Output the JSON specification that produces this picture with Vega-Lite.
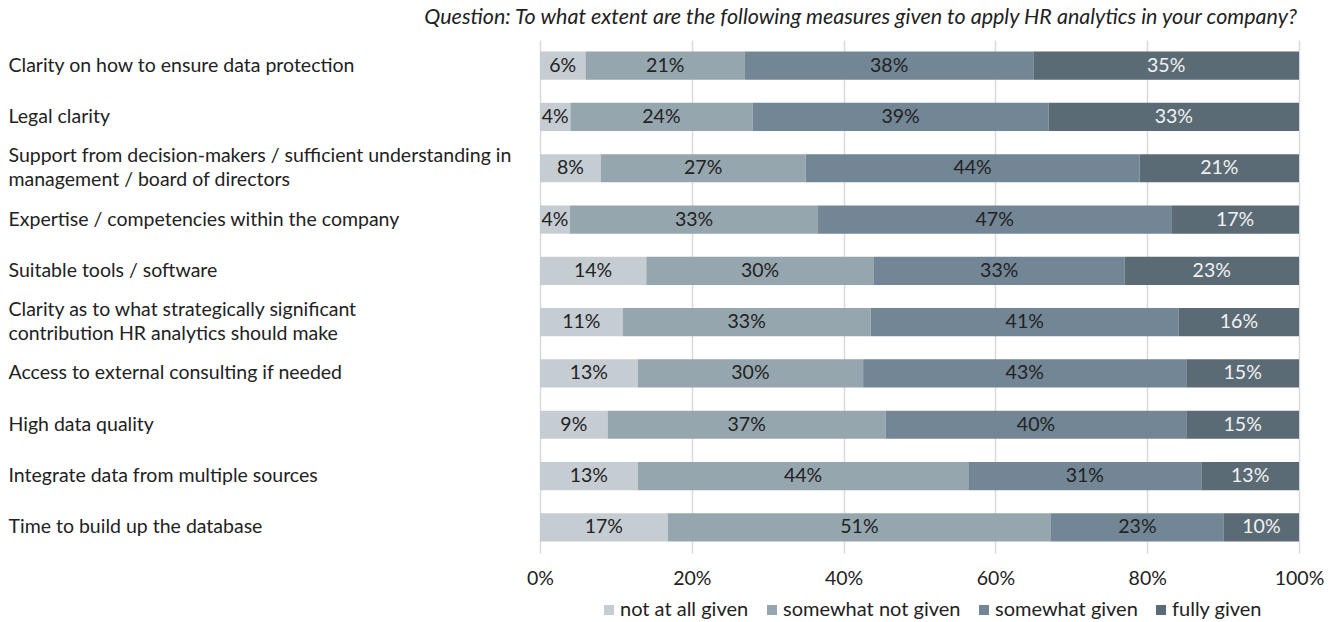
{
  "$schema": "https://vega.github.io/schema/vega-lite/v6.json",
  "autosize": "none",
  "width": 759,
  "height": 513,
  "padding": {"left": 540, "top": 40, "right": 39, "bottom": 69},
  "background": "white",
  "config": {
    "font": "Lato",
    "view": {"stroke": null}
  },
  "title": {
    "text": "Question: To what extent are the following measures given to apply HR analytics in your company?",
    "anchor": "end",
    "frame": "group",
    "fontStyle": "italic",
    "fontWeight": "normal",
    "fontSize": 21.5,
    "color": "#222222",
    "offset": 12,
    "dx": -2
  },
  "data": {
    "values": [
      {"item": "Clarity on how to ensure data protection", "cat": "not at all given", "o": 1, "v": 6},
      {"item": "Clarity on how to ensure data protection", "cat": "somewhat not given", "o": 2, "v": 21},
      {"item": "Clarity on how to ensure data protection", "cat": "somewhat given", "o": 3, "v": 38},
      {"item": "Clarity on how to ensure data protection", "cat": "fully given", "o": 4, "v": 35},
      {"item": "Legal clarity", "cat": "not at all given", "o": 1, "v": 4},
      {"item": "Legal clarity", "cat": "somewhat not given", "o": 2, "v": 24},
      {"item": "Legal clarity", "cat": "somewhat given", "o": 3, "v": 39},
      {"item": "Legal clarity", "cat": "fully given", "o": 4, "v": 33},
      {"item": "Support from decision-makers / sufficient understanding in|management / board of directors", "cat": "not at all given", "o": 1, "v": 8},
      {"item": "Support from decision-makers / sufficient understanding in|management / board of directors", "cat": "somewhat not given", "o": 2, "v": 27},
      {"item": "Support from decision-makers / sufficient understanding in|management / board of directors", "cat": "somewhat given", "o": 3, "v": 44},
      {"item": "Support from decision-makers / sufficient understanding in|management / board of directors", "cat": "fully given", "o": 4, "v": 21},
      {"item": "Expertise / competencies within the company", "cat": "not at all given", "o": 1, "v": 4},
      {"item": "Expertise / competencies within the company", "cat": "somewhat not given", "o": 2, "v": 33},
      {"item": "Expertise / competencies within the company", "cat": "somewhat given", "o": 3, "v": 47},
      {"item": "Expertise / competencies within the company", "cat": "fully given", "o": 4, "v": 17},
      {"item": "Suitable tools / software", "cat": "not at all given", "o": 1, "v": 14},
      {"item": "Suitable tools / software", "cat": "somewhat not given", "o": 2, "v": 30},
      {"item": "Suitable tools / software", "cat": "somewhat given", "o": 3, "v": 33},
      {"item": "Suitable tools / software", "cat": "fully given", "o": 4, "v": 23},
      {"item": "Clarity as to what strategically significant|contribution HR analytics should make", "cat": "not at all given", "o": 1, "v": 11},
      {"item": "Clarity as to what strategically significant|contribution HR analytics should make", "cat": "somewhat not given", "o": 2, "v": 33},
      {"item": "Clarity as to what strategically significant|contribution HR analytics should make", "cat": "somewhat given", "o": 3, "v": 41},
      {"item": "Clarity as to what strategically significant|contribution HR analytics should make", "cat": "fully given", "o": 4, "v": 16},
      {"item": "Access to external consulting if needed", "cat": "not at all given", "o": 1, "v": 13},
      {"item": "Access to external consulting if needed", "cat": "somewhat not given", "o": 2, "v": 30},
      {"item": "Access to external consulting if needed", "cat": "somewhat given", "o": 3, "v": 43},
      {"item": "Access to external consulting if needed", "cat": "fully given", "o": 4, "v": 15},
      {"item": "High data quality", "cat": "not at all given", "o": 1, "v": 9},
      {"item": "High data quality", "cat": "somewhat not given", "o": 2, "v": 37},
      {"item": "High data quality", "cat": "somewhat given", "o": 3, "v": 40},
      {"item": "High data quality", "cat": "fully given", "o": 4, "v": 15},
      {"item": "Integrate data from multiple sources", "cat": "not at all given", "o": 1, "v": 13},
      {"item": "Integrate data from multiple sources", "cat": "somewhat not given", "o": 2, "v": 44},
      {"item": "Integrate data from multiple sources", "cat": "somewhat given", "o": 3, "v": 31},
      {"item": "Integrate data from multiple sources", "cat": "fully given", "o": 4, "v": 13},
      {"item": "Time to build up the database", "cat": "not at all given", "o": 1, "v": 17},
      {"item": "Time to build up the database", "cat": "somewhat not given", "o": 2, "v": 51},
      {"item": "Time to build up the database", "cat": "somewhat given", "o": 3, "v": 23},
      {"item": "Time to build up the database", "cat": "fully given", "o": 4, "v": 10}
    ]
  },
  "transform": [
    {"stack": "v", "groupby": ["item"], "sort": [{"field": "o"}], "offset": "normalize", "as": ["s0", "s1"]},
    {"calculate": "(datum.s0 + datum.s1) / 2", "as": "mid"},
    {"calculate": "datum.v + '%'", "as": "lab"}
  ],
  "encoding": {
    "y": {
      "field": "item",
      "type": "nominal",
      "sort": null,
      "scale": {"paddingInner": 0.45, "paddingOuter": 0.225},
      "axis": {
        "title": null,
        "domain": false,
        "ticks": false,
        "labelAlign": "left",
        "labelPadding": 532,
        "labelFontSize": 19.5,
        "labelColor": "#222222",
        "labelLimit": 540,
        "labelLineHeight": 24,
        "labelOffset": {"condition": {"test": "indexof(datum.label, '|') >= 0", "value": -12}, "value": 0},
        "labelExpr": "split(datum.label, '|')"
      }
    }
  },
  "layer": [
    {
      "mark": {"type": "bar"},
      "encoding": {
        "x": {
          "field": "s0",
          "type": "quantitative",
          "scale": {"domain": [0, 1], "nice": false},
          "axis": {
            "title": null,
            "format": "%",
            "values": [0, 0.2, 0.4, 0.6, 0.8, 1],
            "domain": false,
            "ticks": false,
            "grid": true,
            "gridColor": "#d9d9d9",
            "gridWidth": 1.5,
            "labelFontSize": 19.5,
            "labelColor": "#222222",
            "labelPadding": 16,
            "labelFlush": false,
            "labelOverlap": false
          }
        },
        "x2": {"field": "s1"},
        "color": {
          "field": "cat",
          "type": "nominal",
          "sort": ["not at all given", "somewhat not given", "somewhat given", "fully given"],
          "scale": {
            "domain": ["not at all given", "somewhat not given", "somewhat given", "fully given"],
            "range": ["#c6cdd2", "#96a6ae", "#728695", "#5b6b75"]
          },
          "legend": {
            "title": null,
            "orient": "none",
            "direction": "horizontal",
            "legendX": 59,
            "legendY": 560,
            "padding": 0,
            "symbolType": "square",
            "symbolSize": 100,
            "symbolStrokeWidth": 0,
            "labelFontSize": 20,
            "labelLimit": 300,
            "labelColor": "#222222",
            "columnPadding": 13,
            "labelOffset": 1
          }
        }
      }
    },
    {
      "mark": {"type": "text", "fontSize": 19.5, "baseline": "middle", "align": "center"},
      "encoding": {
        "x": {"field": "mid", "type": "quantitative"},
        "text": {"field": "lab", "type": "nominal"},
        "color": {
          "condition": {"test": "datum.cat === 'fully given'", "value": "#f2f2f2"},
          "value": "#222222"
        }
      }
    }
  ]
}
